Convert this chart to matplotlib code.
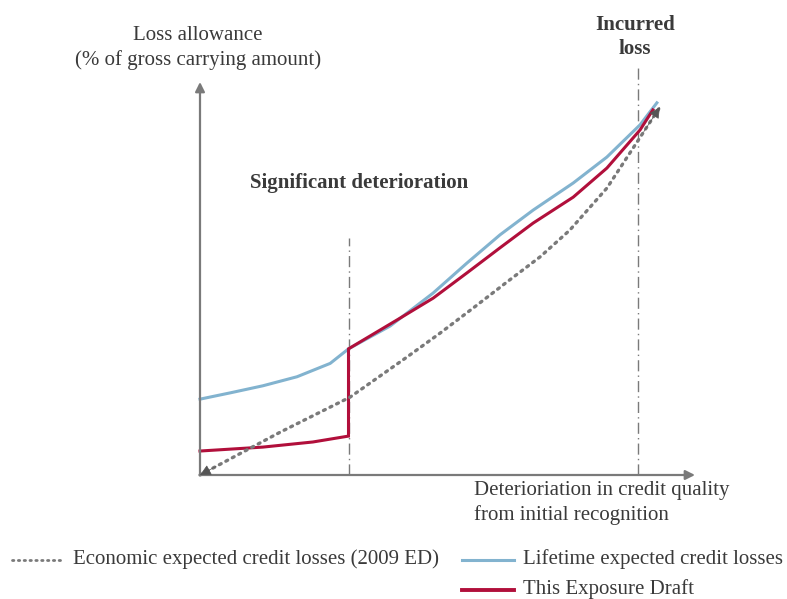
"""Loss allowance vs deterioration in credit quality (IASB exposure draft)."""

import matplotlib as mpl
import matplotlib.pyplot as plt
from matplotlib.lines import Line2D

# conceptual curves (x: deterioration, y: allowance)
econ_x = [0.0, 1.62, 3.03, 4.18, 4.85, 5.52, 6.20, 6.87, 7.47, 8.22, 8.75, 9.29]
econ_y = [0.0, 1.09, 1.98, 3.00, 3.61, 4.25, 4.91, 5.55, 6.23, 7.30, 8.32, 9.36]

life_x = [0.0, 0.61, 1.27, 1.96, 2.63, 3.0, 3.84, 4.71, 5.39, 6.06, 6.73, 7.54, 8.22, 8.89, 9.23]
life_y = [1.93, 2.09, 2.27, 2.50, 2.84, 3.21, 3.79, 4.63, 5.39, 6.11, 6.74, 7.43, 8.09, 8.91, 9.47]

draft_x = [0.0, 1.27, 2.28, 3.0, 3.0, 4.04, 4.71, 5.39, 6.06, 6.73, 7.54, 8.22, 8.89, 9.15]
draft_y = [0.61, 0.71, 0.84, 0.99, 3.21, 3.99, 4.50, 5.14, 5.78, 6.41, 7.07, 7.81, 8.78, 9.29]

sig_det_x = 3.0
incurred_x = 8.85

BLUE = "#82B3CF"
RED = "#B10F3B"
GREY = "#7A7A7A"
TEXT = "#3A3A3A"

W, H = 787, 599


def P(px, py):
    return px / W, 1 - py / H


def head(ax, tip, toward, frac=0.2):
    tail = (tip[0] + frac * (toward[0] - tip[0]), tip[1] + frac * (toward[1] - tip[1]))
    ax.annotate("", xy=tip, xytext=tail,
                arrowprops=dict(arrowstyle="-|>", color="#555555", lw=0.5,
                                mutation_scale=17, shrinkA=0, shrinkB=0))


def main() -> None:
    mpl.rcParams.update({
        "font.family": ["Liberation Serif", "DejaVu Serif"], "font.size": 15,
    })
    fig = plt.figure(figsize=(W / 100, H / 100), dpi=100)
    ax = fig.add_axes([0, 0, 1, 1])
    sx, sy = 49.5, 39.3
    ax.set_xlim(-200 / sx, (W - 200) / sx)
    ax.set_ylim(-(H - 475) / sy, 475 / sy)
    ax.axis("off")

    # axes with arrows
    ax.annotate("", xy=(0, (475 - 82) / sy), xytext=(0, 0),
                arrowprops=dict(arrowstyle="-|>", color=GREY, lw=1.6,
                                mutation_scale=14, shrinkA=0, shrinkB=0))
    ax.annotate("", xy=((695 - 200) / sx, 0), xytext=(0, 0),
                arrowprops=dict(arrowstyle="-|>", color=GREY, lw=1.6,
                                mutation_scale=14, shrinkA=0, shrinkB=0))

    # reference lines
    ax.plot([sig_det_x, sig_det_x], [0, (475 - 238) / sy], color=GREY,
            lw=1.0, ls=(0, (8, 3, 1, 3)))
    ax.plot([incurred_x, incurred_x], [0, (475 - 68) / sy], color=GREY,
            lw=1.0, ls=(0, (8, 3, 1, 3)))

    ax.plot(life_x, life_y, color=BLUE, lw=2.2, solid_joinstyle="round")
    ax.plot(draft_x, draft_y, color=RED, lw=2.2, solid_joinstyle="miter")
    ax.plot(econ_x, econ_y, color=GREY, lw=2.4, ls=(0, (0.6, 1.6)),
            dash_capstyle="round")
    head(ax, (econ_x[0], econ_y[0]), (econ_x[1], econ_y[1]))
    head(ax, (econ_x[-1], econ_y[-1]), (econ_x[-2], econ_y[-2]), frac=0.6)

    # labels
    fig.text(*P(198, 48), "Loss allowance\n(% of gross carrying amount)",
             ha="center", va="center", color=TEXT, linespacing=1.3)
    fig.text(*P(635, 37), "Incurred\nloss", ha="center", va="center",
             color=TEXT, fontweight="bold", linespacing=1.2)
    fig.text(*P(250, 183), "Significant deterioration", ha="left",
             va="center", color=TEXT, fontweight="bold")
    fig.text(*P(474, 503), "Deterioriation in credit quality\nfrom initial recognition",
             ha="left", va="center", color=TEXT, linespacing=1.3)

    # legend
    entries = [
        (12, 560, dict(color=GREY, lw=2.0, ls=(0, (0.5, 1.6)), dash_capstyle="round"),
         "Economic expected credit losses (2009 ED)"),
        (462, 560, dict(color=BLUE, lw=2.2), "Lifetime expected credit losses"),
        (462, 590, dict(color=RED, lw=2.8), "This Exposure Draft"),
    ]
    for px, py, style, label in entries:
        x0, y0 = P(px, py)
        x1, _ = P(px + 52, py)
        fig.add_artist(Line2D([x0, x1], [y0, y0], transform=fig.transFigure, **style))
        fig.text(*P(px + 61, py - 1), label, ha="left", va="center", color=TEXT)

    fig.savefig("out.png", dpi=100)
    plt.close(fig)


if __name__ == "__main__":
    main()
